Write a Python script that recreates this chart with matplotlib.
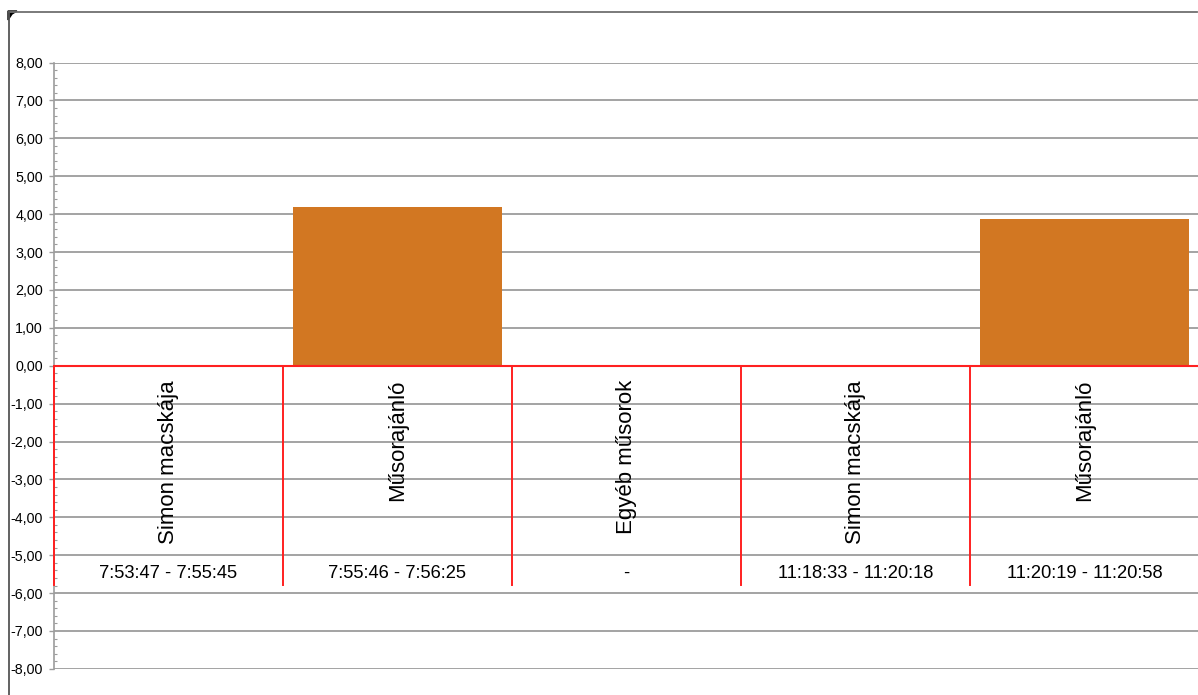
import matplotlib
matplotlib.use("Agg")
import matplotlib.pyplot as plt
from matplotlib.ticker import MultipleLocator, FuncFormatter
from matplotlib.lines import Line2D
from matplotlib.patches import Polygon

plt.rcParams['font.family'] = ['Liberation Sans', 'DejaVu Sans']

# ---- data ----
categories = ["Simon macskája", "Műsorajánló", "Egyéb műsorok", "Simon macskája", "Műsorajánló"]
time_ranges = ["7:53:47 - 7:55:45", "7:55:46 - 7:56:25", "-", "11:18:33 - 11:20:18", "11:20:19 - 11:20:58"]
values = [0.0, 4.18, 0.0, 0.0, 3.87]
y_min, y_max = -8, 8

# ---- style ----
bar_color = "#D27722"
grid_color = "#9c9c9c"
red = "#ff2020"

W, H = 1198, 695
fig = plt.figure(figsize=(W / 100, H / 100), dpi=100)
fig.patch.set_facecolor("white")

# plot area in pixels
x0, x1 = 54, 1199
y_top, y_bot = 62.5, 668.9
ax = fig.add_axes([x0 / W, (H - y_bot) / H, (x1 - x0) / W, (y_bot - y_top) / H])
ax.set_facecolor("white")

n = len(categories)
xs = [i + 0.5 for i in range(n)]
ax.bar(xs, values, width=0.91, color=bar_color, zorder=3, linewidth=0)

ax.set_xlim(0, n)
ax.set_ylim(y_min, y_max)

# y ticks
ax.yaxis.set_major_locator(MultipleLocator(1))
ax.yaxis.set_minor_locator(MultipleLocator(0.2))
ax.yaxis.set_major_formatter(FuncFormatter(lambda v, p: f"{v:.2f}".replace(".", ",")))
ax.tick_params(axis="y", which="major", direction="out", length=3.5, width=1,
               color=grid_color, labelsize=10.3, pad=4.5, labelcolor="#000000")
ax.tick_params(axis="y", which="minor", direction="in", length=2.2, width=0.8, color=grid_color)
ax.set_xticks([])

for s in ["top", "right", "bottom"]:
    ax.spines[s].set_visible(False)
ax.spines["left"].set_color(grid_color)
ax.spines["left"].set_linewidth(1.2)

# gridlines
for v in range(y_min, y_max + 1):
    if v == 0:
        continue
    ax.axhline(v, color=grid_color, lw=1.3, zorder=1)
ax.axhline(0, color=red, lw=1.5, zorder=4)

# category separators (multi-level axis)
sep_bottom = -5.79
for i in range(n):
    ax.plot([i, i], [0, sep_bottom], color=red, lw=1.4, zorder=4, clip_on=False)

for i in range(n):
    ax.text(xs[i], -0.38, categories[i], rotation=90, ha="center", va="top",
            fontsize=16, color="#000000", zorder=5)
    ax.text(xs[i], -5.47, time_ranges[i], ha="center", va="center",
            fontsize=13.2, color="#000000", zorder=5)

# outer chart frame (top & left edges with dark corner)
fig.add_artist(Line2D([9 / W, 1197 / W], [(H - 12) / H, (H - 12) / H],
                      transform=fig.transFigure, color="#707070", lw=1.3))
fig.add_artist(Line2D([9 / W, 9 / W], [(H - 12) / H, 0],
                      transform=fig.transFigure, color="#555555", lw=1.3))
corner = Polygon([[8 / W, (H - 11) / H], [17 / W, (H - 11) / H], [12 / W, (H - 14) / H],
                  [8 / W, (H - 20) / H]],
                 closed=True, transform=fig.transFigure, color="black")
fig.add_artist(corner)

fig.savefig("out.png", dpi=100, facecolor="white")
